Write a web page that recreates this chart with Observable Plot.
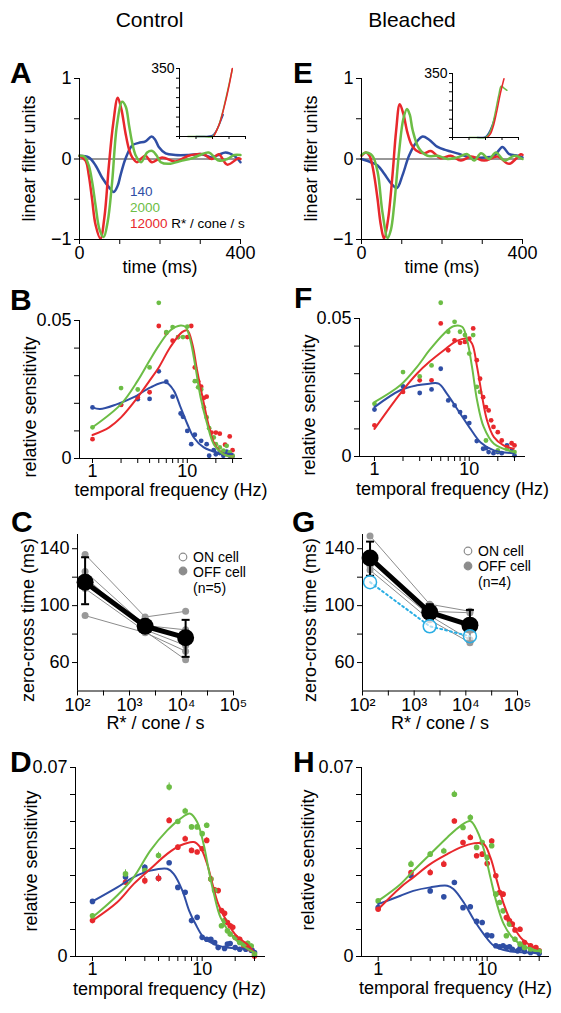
<!DOCTYPE html>
<html><head><meta charset="utf-8">
<script src="https://cdn.jsdelivr.net/npm/d3@7"></script>
<script src="https://cdn.jsdelivr.net/npm/@observablehq/plot@0.6"></script>
<style>
body{margin:0;background:#fff;}
#fig{position:relative;width:561px;height:1013px;overflow:hidden;font-family:"Liberation Sans",Arial,Helvetica,sans-serif;background:#fff;}
#fig svg{position:absolute;}
</style></head><body><div id="fig"></div>
<script>
// ---------- colours ----------
const BLUE = "#2f4ea4", GREEN = "#6cbd45", RED = "#e8282c", GRAY = "#8c8c8c", CYAN = "#2aaee4";
const FONT = "'Liberation Sans', Arial, Helvetica, sans-serif";

// ---------- A / E : linear filters [time ms, filter units] ----------
const filterA_red = [[0,0.04],[15,-0.02],[23,-0.2],[31,-0.49],[40,-0.82],[52,-0.99],[62,-0.72],[73,-0.08],[84,0.45],[95,0.76],[104,0.62],[114,0.33],[123,0.12],[131,0.02],[143,-0.04],[154,0.01],[164,0.04],[180,-0.04],[205,0.02],[238,-0.03],[271,0.04],[308,0.06],[328,0.0],[346,0.06],[367,-0.07],[395,0.01],[400,0.0]];
const filterA_green = [[0,0.04],[12,0.03],[23,-0.08],[32,-0.3],[40,-0.58],[50,-0.88],[60,-0.97],[70,-0.78],[81,-0.29],[93,0.42],[106,0.71],[115,0.65],[123,0.42],[131,0.2],[140,0.04],[153,-0.04],[168,0.08],[181,0.1],[192,0.04],[202,-0.04],[222,-0.06],[255,-0.02],[280,0.01],[300,0.05],[321,0.08],[346,-0.02],[367,0.0],[385,0.05],[400,0.05]];
const filterA_blue = [[0,0.04],[23,0.02],[40,-0.08],[56,-0.23],[73,-0.35],[85,-0.41],[95,-0.33],[102,-0.2],[114,0.0],[131,0.17],[147,0.2],[164,0.22],[179,0.28],[188,0.24],[197,0.15],[214,0.07],[238,0.05],[271,0.05],[304,0.06],[328,0.02],[345,0.05],[363,0.08],[384,0.04],[400,-0.04]];
const filterE_red = [[0,0.04],[11,0.08],[20,0.04],[27,-0.08],[33,-0.25],[40,-0.5],[48,-0.82],[56,-0.99],[66,-0.75],[77,-0.2],[86,0.35],[95,0.68],[104,0.56],[114,0.33],[124,0.18],[135,0.11],[156,0.07],[172,0.1],[197,0.01],[222,0.04],[247,-0.02],[272,0.03],[305,-0.02],[338,0.03],[367,-0.06],[396,0.06],[400,0.05]];
const filterE_green = [[0,0.05],[11,0.08],[27,0.04],[40,-0.16],[52,-0.66],[65,-0.98],[73,-0.88],[81,-0.58],[94,0.12],[104,0.5],[113,0.62],[120,0.55],[127,0.36],[143,0.13],[164,0.04],[189,0.04],[214,0.0],[238,0.02],[263,0.06],[280,-0.02],[297,0.07],[317,0.0],[334,0.08],[355,-0.02],[380,0.04],[400,0.0]];
const filterE_blue = [[0,0.0],[23,-0.04],[40,-0.08],[56,-0.18],[73,-0.3],[88,-0.36],[102,-0.2],[118,0.04],[135,0.2],[152,0.28],[168,0.24],[189,0.15],[210,0.11],[238,0.07],[272,0.02],[305,0.02],[330,0.04],[350,0.15],[367,0.06],[388,0.04],[400,0.02]];

// insets (nonlinearity, generator units vs rate)
const insetA_green = [[0.5,0],[1.0,0],[1.5,0],[2.0,0],[2.3,40],[2.6,120],[2.9,230],[3.2,345]];
const insetA_red = [[2.1,5],[2.4,60],[2.7,150],[3.0,260],[3.2,350]];
const insetA_blue = [[1.0,0],[1.5,0],[2.0,5],[2.2,25],[2.4,60],[2.65,112]];
const insetE_green = [[1.0,0],[1.5,0],[2.0,0],[2.2,15],[2.4,60],[2.6,140],[2.8,230],[2.95,280],[3.1,272],[3.3,258]];
const insetE_red = [[2.1,0],[2.3,20],[2.5,70],[2.7,150],[2.9,240],[3.12,321]];
const insetE_blue = [[1.5,0],[1.8,0],[2.0,3],[2.2,25],[2.4,65],[2.56,110]];

// ---------- B / F : relative sensitivity [Hz, value] ----------
const B_fit_blue = [[1,0.0185],[1.2,0.0179],[1.82,0.0197],[2.73,0.0222],[4.1,0.0258],[5.9,0.0276],[7.2,0.0246],[8.5,0.0185],[10,0.0125],[11.7,0.0076],[14.9,0.004],[20.7,0.0022],[30,0.0016]];
const B_fit_red = [[1,0.0085],[1.5,0.0113],[2,0.0149],[3,0.0222],[4,0.0282],[5,0.033],[6.6,0.0403],[8.8,0.0458],[10,0.0464],[11.3,0.0415],[12.7,0.0318],[15,0.0197],[17,0.0113],[19.8,0.0046],[24,0.0016],[30,0.0006]];
const B_fit_green = [[1,0.0113],[2,0.0197],[3,0.0282],[4,0.0355],[5,0.0409],[6.6,0.0464],[8.5,0.0482],[9.6,0.0476],[10.8,0.0427],[12.2,0.033],[13.8,0.0222],[16.2,0.0125],[19,0.0052],[24,0.0016],[30,0.0006]];
const B_pts_blue = [[1,0.0185],[2,0.0195],[3,0.0215],[4,0.0216],[5,0.0316],[6,0.0278],[7,0.0224],[8.5,0.0163],[9,0.0151],[10,0.01],[11,0.0052],[12,0.0086],[14,0.0064],[16,0.0052],[17,0.001],[19,0.003],[20,0.0015],[22,0.002],[24,0.001],[26,0.0025],[28,0.001],[30,0.0008]];
const B_pts_red = [[1,0.007],[2,0.0194],[3,0.0222],[4,0.024],[5,0.048],[6,0.0455],[7,0.0427],[8,0.044],[10,0.044],[11,0.048],[12,0.033],[13,0.028],[14,0.026],[15,0.022],[16,0.0224],[18,0.0094],[20,0.0094],[22,0.009],[25,0.005],[28,0.008],[30,0.003]];
const B_pts_green = [[1,0.0113],[2,0.0255],[3,0.025],[4,0.033],[5,0.0564],[6,0.0458],[7,0.0476],[8,0.044],[9,0.044],[10,0.0478],[12,0.028],[13,0.0258],[14,0.025],[15,0.0185],[16,0.0149],[17,0.011],[19,0.0076],[20,0.0052],[22,0.004],[24,0.0028],[26,0.0046],[28,0.0022],[30,0.001]];

const F_fit_blue = [[1,0.0179],[1.87,0.024],[2.8,0.0258],[3.8,0.0264],[4.75,0.0264],[5.8,0.0228],[8.05,0.0155],[10.3,0.01],[13.1,0.0052],[18.2,0.0022],[29.5,0.0012]];
const F_fit_green = [[1,0.0197],[1.87,0.0258],[2.8,0.0324],[3.8,0.0385],[5.4,0.0445],[6.8,0.0472],[8.4,0.047],[9.5,0.0421],[10.7,0.0324],[12.1,0.0203],[14.2,0.0107],[18.2,0.0046],[29.5,0.0016]];
const F_fit_red = [[1,0.01],[1.87,0.0228],[2.8,0.030],[3.8,0.0343],[5.4,0.0385],[7.4,0.0419],[9.5,0.0427],[10.7,0.0409],[12.1,0.0324],[13.7,0.0215],[15.4,0.0131],[18.2,0.007],[23,0.004],[29.5,0.0028]];
const F_pts_blue = [[1,0.017],[2,0.0254],[3,0.023],[4,0.0243],[5,0.0318],[6,0.0203],[7,0.0185],[8,0.0161],[9,0.0143],[10,0.0121],[12,0.0056],[14,0.0028],[15,0.003],[16,0.0016],[18,0.0012],[20,0.0016],[22,0.0012],[25,0.004],[28,0.0022],[30,0.0004]];
const F_pts_green = [[1,0.0191],[2,0.0306],[3,0.029],[4,0.033],[5,0.0557],[6,0.0452],[7,0.0488],[8,0.0452],[9,0.044],[10,0.0373],[11,0.044],[12,0.0252],[13,0.0234],[15,0.0058],[20,0.0022],[25,0.0028],[30,0.0016]];
const F_pts_red = [[1,0.0113],[2,0.0234],[3,0.0276],[4,0.0276],[5,0.0482],[6,0.0385],[7,0.0421],[8,0.0412],[9,0.0415],[10,0.0427],[11,0.0464],[12,0.0349],[13,0.0282],[14,0.0215],[15,0.0179],[16,0.0167],[17,0.0131],[18,0.0107],[20,0.0088],[22,0.0058],[25,0.0034],[28,0.0048],[30,0.004]];

// ---------- C / G : zero-cross time (ms) vs R*/cone/s ----------
const R_levels = [140, 2000, 12000];
const C_cells = [[136,92,96],[124,86,83],[120,83,72],[112,82,62],[93,81,68]];
const C_mean = [116.5, 85.5, 77.5];
const C_lo = [101, 81, 64];
const C_hi = [134, 89, 90];
const G_cells = [[149,101,96],[133,96,95],[128,93,76],[125,90,74]];
const G_mean = [133.5, 95.3, 86.3];
const G_lo = [121, 90, 75];
const G_hi = [145, 101, 97];
const G_cyan = [116.5, 85.5, 78.5];

// ---------- D / H : relative sensitivity with error [Hz, value, sem] ----------
const D_fit_blue = [[1,0.0204],[1.68,0.0256],[2.38,0.0294],[3.38,0.0318],[4.8,0.0325],[5.5,0.0306],[6.6,0.0244],[7.6,0.017],[8.7,0.012],[10.3,0.0071],[12.8,0.0046],[16.9,0.0033],[29.6,0.0027]];
const D_fit_green = [[1,0.0145],[1.68,0.0226],[2.38,0.0294],[3.38,0.0393],[4.8,0.0467],[6.3,0.051],[7.8,0.0529],[9.0,0.0498],[10.3,0.0417],[11.5,0.0318],[12.8,0.0232],[14.7,0.0145],[18.2,0.0083],[22.4,0.0046],[29.6,0.0015]];
const D_fit_red = [[1,0.0133],[1.68,0.0201],[2.38,0.0269],[3.38,0.0325],[4.8,0.038],[6.3,0.0411],[8.4,0.0424],[9.6,0.0405],[11.1,0.0343],[12.4,0.0269],[14.0,0.0195],[16.6,0.0133],[20.5,0.0077],[25.6,0.0046],[29.6,0.0015]];
const D_pts_blue = [[1,0.0204,0.0005],[2,0.0294,0.001],[3,0.033,0.001],[4,0.029,0.001],[5,0.0347,0.0005],[6,0.0256,0.0005],[7,0.0238,0.0005],[8,0.0133,0.0008],[9,0.0145,0.0008],[10,0.0071,0.0005],[11,0.0064,0.0005],[12,0.0064,0.0005],[13,0.0052,0.0005],[14,0.0033,0.0005],[16,0.003,0.0005],[17,0.0046,0.0005],[18,0.0048,0.0005],[20,0.0033,0.0005],[22,0.0027,0.0005],[25,0.0027,0.0005],[28,0.0023,0.0005],[30,0.0015,0.0005]];
const D_pts_green = [[1,0.0151,0.0008],[2,0.0306,0.0015],[3,0.0318,0.001],[4,0.0374,0.0012],[5,0.0628,0.0015],[6,0.050,0.0008],[7,0.0539,0.001],[8,0.048,0.0008],[9,0.048,0.0008],[10,0.0455,0.0008],[11,0.0486,0.0008],[12,0.0287,0.0008],[13,0.0244,0.0008],[15,0.0114,0.0008],[16,0.0133,0.0008],[17,0.0095,0.0008],[18,0.0083,0.0008],[20,0.0071,0.0008],[22,0.0052,0.0008],[24,0.0046,0.0008],[26,0.0049,0.0008],[28,0.0039,0.0008],[30,0.0009,0.0008]];
const D_pts_red = [[1,0.0133,0.0008],[2,0.0275,0.001],[3,0.0281,0.0015],[4,0.029,0.0015],[5,0.0504,0.001],[6,0.0405,0.0008],[7,0.0436,0.001],[8,0.0393,0.0008],[9,0.0387,0.0008],[10,0.0399,0.0008],[11,0.043,0.001],[12,0.0287,0.0008],[13,0.0247,0.0008],[14,0.0244,0.0008],[15,0.017,0.0008],[16,0.016,0.0008],[17,0.0126,0.0008],[18,0.0114,0.0008],[19,0.0108,0.0008],[20,0.0071,0.0008],[22,0.0064,0.0008],[24,0.004,0.0008],[26,0.0033,0.0008],[28,0.0027,0.0008],[30,0.0002,0.0008]];

const H_fit_blue = [[1,0.0194],[1.6,0.0225],[2.1,0.0243],[3.0,0.0256],[4.3,0.0262],[4.9,0.025],[6.1,0.02],[7.5,0.0138],[9.3,0.0083],[11.5,0.004],[15.3,0.0021],[23.3,0.0015],[30,0.0012]];
const H_fit_green = [[1,0.0206],[1.6,0.0268],[2.1,0.0317],[3.0,0.0379],[4.3,0.0441],[5.7,0.0484],[7.0,0.0502],[8.1,0.0465],[9.3,0.0398],[10.7,0.0293],[12.3,0.0194],[14.2,0.012],[17.6,0.0064],[23.3,0.0033],[28.8,0.0021]];
const H_fit_red = [[1,0.0175],[1.6,0.0256],[2.1,0.0293],[3.0,0.0342],[4.3,0.0379],[5.7,0.0404],[7.5,0.0419],[9.3,0.0416],[10.7,0.0367],[12.3,0.028],[14.2,0.0194],[16.4,0.0132],[20.3,0.007],[25,0.004],[28.8,0.0027]];
const H_pts_blue = [[1,0.0181,0.0005],[2,0.0299,0.0005],[3,0.0243,0.0008],[4,0.0221,0.0005],[5,0.0274,0.0008],[6,0.0181,0.0008],[7,0.0184,0.0008],[8,0.013,0.0008],[9,0.0126,0.0008],[10,0.0079,0.0005],[11,0.0077,0.0005],[12,0.004,0.0005],[13,0.0036,0.0005],[14,0.004,0.0005],[15,0.0033,0.0005],[16,0.0036,0.0005],[17,0.0027,0.0005],[19,0.0021,0.0005],[20,0.003,0.0005],[22,0.0019,0.0005],[25,0.0015,0.0005],[28,0.0019,0.0005],[30,0.0012,0.0005]];
const H_pts_green = [[1,0.0206,0.0005],[2,0.0342,0.0012],[3,0.0379,0.001],[4,0.0391,0.001],[5,0.0601,0.0012],[6,0.0478,0.0008],[7,0.0515,0.001],[8,0.0404,0.0008],[9,0.0422,0.0008],[10,0.0367,0.0008],[11,0.041,0.0008],[12,0.0231,0.0008],[13,0.02,0.0008],[14,0.0169,0.0008],[15,0.0077,0.0008],[16,0.012,0.0008],[18,0.0064,0.0008],[20,0.0046,0.0008],[22,0.0033,0.0008],[25,0.0027,0.0008],[28,0.0021,0.0008],[30,0.0019,0.0008]];
const H_pts_red = [[1,0.0175,0.0008],[2,0.0311,0.0008],[3,0.0311,0.0012],[4,0.0342,0.0012],[5,0.0502,0.0008],[6,0.0422,0.0008],[7,0.0441,0.001],[8,0.0373,0.0008],[9,0.0379,0.0008],[10,0.0344,0.0008],[11,0.0428,0.0008],[12,0.0299,0.0008],[13,0.0237,0.0008],[14,0.0231,0.0008],[15,0.0144,0.0008],[16,0.0132,0.0008],[17,0.012,0.0008],[18,0.0098,0.0008],[20,0.0101,0.0008],[22,0.0052,0.0008],[25,0.004,0.0008],[28,0.0033,0.0008],[30,0.0021,0.0008]];

// ---------- tick definitions ----------
const timeTicks = [0, 100, 200, 300, 400];
const filterTicks = [-1, -0.5, 0, 0.5, 1];
const freqTicks = [1, 2, 3, 4, 5, 6, 7, 8, 9, 10, 20, 30];
const freqLabels = [1, 3, 10, 30];
const sensTicksB = [0, 0.01, 0.02, 0.03, 0.04, 0.05];
const sensTicksD = [0, 0.01, 0.02, 0.03, 0.04, 0.05, 0.06, 0.07];
const lumTicks = [100, 316.2, 1000, 3162, 10000, 31623, 100000];
const lumLabels = {100: "10²", 1000: "10³", 10000: "10⁴", 100000: "10⁵"};
const zcTicks = [60, 80, 100, 120, 140];
const zcLabels = [60, 100, 140];
const insetXTicks = [0, 1, 2, 3, 4];
const insetYTicks = [0, 50, 100, 150, 200, 250, 300, 350];

// ---------- helpers ----------
const fig = document.getElementById("fig");
function place(box, opts, fontSize = 18) {
  const pad = {l: 70, r: 20, t: 20, b: 50};
  const svg = Plot.plot({
    width: box.x1 - box.x0 + pad.l + pad.r,
    height: box.y1 - box.y0 + pad.t + pad.b,
    marginLeft: pad.l, marginRight: pad.r, marginTop: pad.t, marginBottom: pad.b,
    style: `background:transparent;overflow:visible;max-width:none;font-family:${FONT};font-size:${fontSize}px;color:black;`,
    ...opts
  });
  svg.style.position = "absolute";
  svg.style.left = (box.x0 - pad.l) + "px";
  svg.style.top = (box.y0 - pad.t) + "px";
  fig.appendChild(svg);
}
const X = d => d[0], Y = d => d[1];
const line = (data, stroke, w = 2) => Plot.line(data, {x: X, y: Y, stroke, strokeWidth: w, curve: "catmull-rom"});
const dots = (data, fill, r = 2.4) => Plot.dot(data, {x: X, y: Y, r, fill});
const errs = (data, stroke) => Plot.ruleX(data, {x: X, y1: d => d[1] - d[2], y2: d => d[1] + d[2], stroke, strokeWidth: 1});
const capSymbol = {draw(ctx, size) { const w = Math.sqrt(size / Math.PI); ctx.moveTo(-w, 0); ctx.lineTo(w, 0); }};
const spines = (xmin, ymin) => [Plot.ruleX([xmin], {stroke: "black"}), Plot.ruleY([ymin], {stroke: "black"})];
const xlabel = (s, dy, dx = 0) => Plot.text([s], {frameAnchor: "bottom", dy, dx, fontSize: 18});

// ---------- A / E ----------
function filterPanel(box, red, green, blue) {
  place(box, {
    x: {domain: [0, 400]}, y: {domain: [-1, 1]},
    marks: [
      Plot.ruleY([0], {stroke: "#333"}),
      line(blue, BLUE, 2.5), line(red, RED, 2.5), line(green, GREEN, 2.5),
      ...spines(0, -1),
      Plot.axisX(timeTicks, {tickFormat: d => (d === 0 || d === 400) ? String(d) : "", tickSize: 5, tickPadding: 2, label: null}),
      Plot.axisY(filterTicks, {tickFormat: d => d === 1 ? "1" : d === 0 ? "0" : d === -1 ? "−1" : "", tickSize: 5, tickPadding: 3, label: null}),
      xlabel("time (ms)", 33)
    ]
  });
}
function insetPanel(box, red, green, blue) {
  place(box, {
    x: {domain: [0, 4]}, y: {domain: [0, 350]},
    marks: [
      line(blue, BLUE, 1.5), line(green, GREEN, 1.5), line(red, RED, 1.5),
      ...spines(0, 0),
      Plot.axisX(insetXTicks, {tickFormat: () => "", tickSize: 3, label: null}),
      Plot.axisY(insetYTicks, {tickFormat: d => d === 350 ? "350" : "", tickSize: 3, tickPadding: 2, label: null})
    ]
  }, 14);
}
filterPanel({x0: 79, x1: 240, y0: 78, y1: 239}, filterA_red, filterA_green, filterA_blue);
filterPanel({x0: 361, x1: 522, y0: 78, y1: 239}, filterE_red, filterE_green, filterE_blue);
insetPanel({x0: 179, x1: 245, y0: 68, y1: 136}, insetA_red, insetA_green, insetA_blue);
insetPanel({x0: 452, x1: 518, y0: 73, y1: 137}, insetE_red, insetE_green, insetE_blue);

// ---------- B / F / D / H ----------
function freqPanel(box, xdom, ydom, yticks, fits, pts, withErr, lab) {
  const marks = [];
  const cols = [BLUE, RED, GREEN];
  pts.forEach((p, i) => { if (withErr) marks.push(errs(p, cols[i])); });
  pts.forEach((p, i) => marks.push(dots(p, cols[i], withErr ? 2.8 : 2.4)));
  fits.forEach((f, i) => marks.push(line(f, cols[i], 2)));
  marks.push(...spines(xdom[0], 0));
  marks.push(Plot.axisX(freqTicks, {tickFormat: d => freqLabels.includes(d) ? String(d) : "", tickSize: 5, tickPadding: 1, label: null}));
  marks.push(Plot.axisY(yticks, {tickFormat: d => (d === 0 || d === ydom[1]) ? String(d) : "", tickSize: 5, tickPadding: 3, label: null}));
  marks.push(xlabel("temporal frequency (Hz)", lab.xdy, lab.xdx));
  place(box, {x: {type: "log", domain: xdom}, y: {domain: ydom}, marks});
}
freqPanel({x0: 79, x1: 242, y0: 320, y1: 458}, [0.729, 38.2], [0, 0.05], sensTicksB,
  [B_fit_blue, B_fit_red, B_fit_green], [B_pts_blue, B_pts_red, B_pts_green], false, {xdy: 37, xdx: 10});
freqPanel({x0: 359, x1: 525, y0: 318, y1: 456}, [0.695, 39.2], [0, 0.05], sensTicksB,
  [F_fit_blue, F_fit_red, F_fit_green], [F_pts_blue, F_pts_red, F_pts_green], false, {xdy: 38, xdx: 10});
freqPanel({x0: 75, x1: 265, y0: 767, y1: 956}, [0.70, 37.8], [0, 0.07], sensTicksD,
  [D_fit_blue, D_fit_red, D_fit_green], [D_pts_blue, D_pts_red, D_pts_green], true, {xdy: 38, xdx: -1});
freqPanel({x0: 361, x1: 549, y0: 767, y1: 956}, [0.703, 37.3], [0, 0.07], sensTicksD,
  [H_fit_blue, H_fit_red, H_fit_green], [H_pts_blue, H_pts_red, H_pts_green], true, {xdy: 37, xdx: 0});

// ---------- C / G ----------
function zcPanel(box, cells, mean, lo, hi, cyan) {
  const rows = cells.flatMap((vals, i) => vals.map((v, j) => ({cell: i, R: R_levels[j], t: v})));
  const m = R_levels.map((R, j) => ({R, m: mean[j], lo: lo[j], hi: hi[j]}));
  const marks = [
    Plot.line(rows, {x: "R", y: "t", z: "cell", stroke: GRAY, strokeWidth: 1}),
    Plot.dot(rows, {x: "R", y: "t", r: 3.5, fill: "#999"}),
    Plot.ruleX(m, {x: "R", y1: "lo", y2: "hi", stroke: "black", strokeWidth: 2}),
    Plot.dot(m, {x: "R", y: "lo", symbol: capSymbol, r: 4, stroke: "black", fill: "none", strokeWidth: 2}),
    Plot.dot(m, {x: "R", y: "hi", symbol: capSymbol, r: 4, stroke: "black", fill: "none", strokeWidth: 2}),
    Plot.line(m, {x: "R", y: "m", stroke: "black", strokeWidth: 5}),
    Plot.dot(m, {x: "R", y: "m", r: 8.5, fill: "black"})
  ];
  if (cyan) {
    const c = R_levels.map((R, j) => ({R, t: cyan[j]}));
    marks.push(Plot.line(c, {x: "R", y: "t", stroke: CYAN, strokeWidth: 2, strokeDasharray: "2,3"}));
    marks.push(Plot.dot(c, {x: "R", y: "t", r: 6.5, stroke: CYAN, strokeWidth: 1.5, fill: "white", fillOpacity: 0.6}));
  }
  marks.push(...spines(100, 40));
  marks.push(Plot.axisX(lumTicks, {tickFormat: d => lumLabels[d] || "", tickSize: 5, tickPadding: 2, label: null}));
  marks.push(Plot.axisY(zcTicks, {tickFormat: d => zcLabels.includes(d) ? String(d) : "", tickSize: 5, tickPadding: 3, label: null}));
  marks.push(xlabel("R* / cone / s", 38));
  place(box, {x: {type: "log", domain: [100, 100000]}, y: {domain: [40, 150]}, marks});
}
zcPanel({x0: 77, x1: 233, y0: 534, y1: 690.5}, C_cells, C_mean, C_lo, C_hi, null);
zcPanel({x0: 362, x1: 517, y0: 534, y1: 690.5}, G_cells, G_mean, G_lo, G_hi, G_cyan);

// ---------- overlay text: titles, panel letters, y-axis titles, legends ----------
const NS = "http://www.w3.org/2000/svg";
const ov = document.createElementNS(NS, "svg");
ov.setAttribute("width", 561); ov.setAttribute("height", 1013);
ov.style.left = "0px"; ov.style.top = "0px";
ov.setAttribute("font-family", FONT);
function txt(s, x, y, opt = {}) {
  const t = document.createElementNS(NS, "text");
  t.setAttribute("x", x); t.setAttribute("y", y);
  t.setAttribute("font-size", opt.size || 18);
  if (opt.bold) t.setAttribute("font-weight", "bold");
  if (opt.anchor) t.setAttribute("text-anchor", opt.anchor);
  t.setAttribute("fill", opt.fill || "black");
  t.textContent = s;
  ov.appendChild(t);
  return t;
}
function vtxt(s, cx, cy) {
  const t = document.createElementNS(NS, "text");
  t.setAttribute("transform", `translate(${cx},${cy}) rotate(-90)`);
  t.setAttribute("text-anchor", "middle");
  t.setAttribute("dy", "0.35em");
  t.setAttribute("font-size", 18);
  t.textContent = s;
  ov.appendChild(t);
}
function circ(cx, cy, r, fill, stroke) {
  const c = document.createElementNS(NS, "circle");
  c.setAttribute("cx", cx); c.setAttribute("cy", cy); c.setAttribute("r", r);
  c.setAttribute("fill", fill); c.setAttribute("stroke", stroke); c.setAttribute("stroke-width", 1.2);
  ov.appendChild(c);
}
txt("Control", 149.5, 27, {size: 21, anchor: "middle"});
txt("Bleached", 412, 27, {size: 21, anchor: "middle"});
const letters = [["A", 10, 83], ["B", 10, 310], ["C", 11, 532], ["D", 10, 772], ["E", 293, 83], ["F", 294, 308], ["G", 292, 532], ["H", 293, 772]];
letters.forEach(([s, x, y]) => txt(s, x, y, {size: 30, bold: true}));
// y-axis titles
vtxt("linear filter units", 29, 158.5);
vtxt("linear filter units", 311, 158.5);
vtxt("relative sensitivity", 30, 407);
vtxt("relative sensitivity", 309, 405);
vtxt("zero-cross time (ms)", 28, 620);
vtxt("zero-cross time (ms)", 310, 620);
vtxt("relative sensitivity", 31, 861);
vtxt("relative sensitivity", 308, 860);
// filter legend
txt("140", 130, 196, {size: 13.5, fill: BLUE});
txt("2000", 130, 212, {size: 13.5, fill: GREEN});
const t3 = txt("", 130, 228, {size: 13.5});
const s1 = document.createElementNS(NS, "tspan"); s1.setAttribute("fill", RED); s1.textContent = "12000";
const s2 = document.createElementNS(NS, "tspan"); s2.setAttribute("fill", "black"); s2.textContent = " R* / cone / s";
t3.appendChild(s1); t3.appendChild(s2);
// C legend
circ(183, 557, 3.8, "white", GRAY); txt("ON cell", 193, 562, {size: 14});
circ(183, 571, 3.8, GRAY, GRAY); txt("OFF cell", 193, 577, {size: 14});
txt("(n=5)", 193, 593, {size: 14});
// G legend
circ(468, 551, 3.8, "white", GRAY); txt("ON cell", 478, 556, {size: 14});
circ(468, 566, 3.8, GRAY, GRAY); txt("OFF cell", 478, 571, {size: 14});
txt("(n=4)", 478, 587, {size: 14});
fig.appendChild(ov);
</script>
</body></html>
